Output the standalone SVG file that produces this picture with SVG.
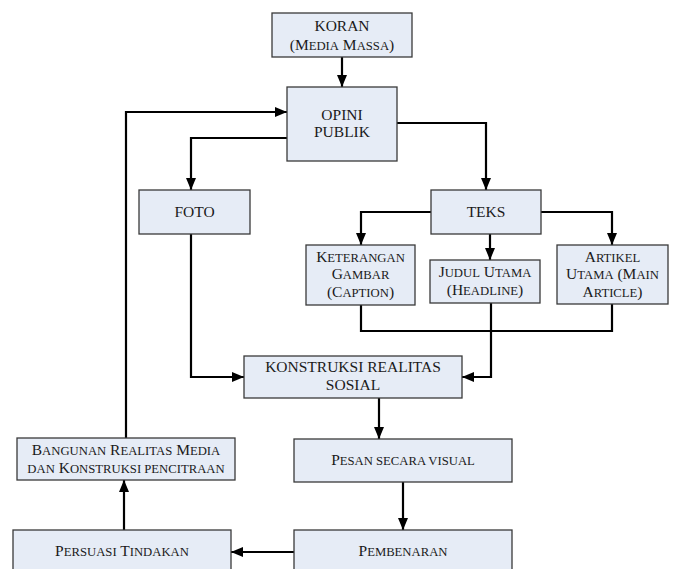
<svg xmlns="http://www.w3.org/2000/svg" width="673" height="569" viewBox="0 0 673 569">
<defs>
<marker id="ah" markerWidth="12" markerHeight="10" refX="12" refY="5" orient="auto" markerUnits="userSpaceOnUse">
<path d="M0,0 L12,5 L0,10 Z" fill="#000"/>
</marker>
<style>
.box{fill:#E6ECF6;stroke:#3a3a3a;stroke-width:1.3}
.t{font-family:"Liberation Serif","Times New Roman",serif;font-size:15.5px;fill:#1a1a1a;text-anchor:middle}
.s{font-size:12.7px}
.c{fill:none;stroke:#000;stroke-width:2.2}
.a{marker-end:url(#ah)}
</style>
</defs>
<g id="connectors">
<path class="c a" d="M342,57 V87"/>
<path class="c a" d="M126,438 V112 H287"/>
<path class="c a" d="M287,138 H191 V190"/>
<path class="c a" d="M397,123 H486 V190"/>
<path class="c a" d="M431,212 H361 V245"/>
<path class="c a" d="M541,212 H612 V245"/>
<path class="c a" d="M490,234 V260"/>
<path class="c" d="M361,305 V331 H612 V304"/>
<path class="c a" d="M491,303 V377 H462"/>
<path class="c a" d="M191,234 V377 H244"/>
<path class="c a" d="M379,398 V439"/>
<path class="c a" d="M403,482 V530"/>
<path class="c a" d="M294,552 H231"/>
<path class="c a" d="M124,530 V480"/>
</g>
<g id="koran">
<rect class="box" x="272" y="13" width="140" height="44"/>
<text class="t" x="342" y="31">KORAN</text>
<text class="t" x="342" y="50">(M<tspan class="s">EDIA</tspan> M<tspan class="s">ASSA</tspan>)</text>
</g>
<g id="opini">
<rect class="box" x="287" y="87" width="110" height="74"/>
<text class="t" x="342" y="120">OPINI</text>
<text class="t" x="342" y="137">PUBLIK</text>
</g>
<g id="foto">
<rect class="box" x="139" y="190" width="111" height="44"/>
<text class="t" x="194.5" y="217">FOTO</text>
</g>
<g id="teks">
<rect class="box" x="431" y="190" width="110" height="44"/>
<text class="t" x="486" y="217">TEKS</text>
</g>
<g id="keterangan">
<rect class="box" x="306" y="245" width="109" height="60"/>
<text class="t" x="360.5" y="262">K<tspan class="s">ETERANGAN</tspan></text>
<text class="t" x="360.5" y="279">G<tspan class="s">AMBAR</tspan></text>
<text class="t" x="360.5" y="297">(C<tspan class="s">APTION</tspan>)</text>
</g>
<g id="judul">
<rect class="box" x="430" y="260" width="110" height="43"/>
<text class="t" x="485" y="277">J<tspan class="s">UDUL</tspan> U<tspan class="s">TAMA</tspan></text>
<text class="t" x="485" y="295">(H<tspan class="s">EADLINE</tspan>)</text>
</g>
<g id="artikel">
<rect class="box" x="557" y="245" width="111" height="59"/>
<text class="t" x="612.5" y="262">A<tspan class="s">RTIKEL</tspan></text>
<text class="t" x="612.5" y="279">U<tspan class="s">TAMA</tspan> (M<tspan class="s">AIN</tspan></text>
<text class="t" x="612.5" y="297">A<tspan class="s">RTICLE</tspan>)</text>
</g>
<g id="konstruksi">
<rect class="box" x="244" y="356" width="218" height="42"/>
<text class="t" x="353" y="372">KONSTRUKSI REALITAS</text>
<text class="t" x="353" y="390">SOSIAL</text>
</g>
<g id="pesan">
<rect class="box" x="294" y="439" width="218" height="43"/>
<text class="t" x="403" y="465">P<tspan class="s">ESAN SECARA VISUAL</tspan></text>
</g>
<g id="bangunan">
<rect class="box" x="17" y="438" width="218" height="42"/>
<text class="t" x="126" y="455">B<tspan class="s">ANGUNAN</tspan> R<tspan class="s">EALITAS</tspan> M<tspan class="s">EDIA</tspan></text>
<text class="t" x="126" y="473"><tspan class="s">DAN</tspan> K<tspan class="s">ONSTRUKSI PENCITRAAN</tspan></text>
</g>
<g id="persuasi">
<rect class="box" x="13" y="530" width="218" height="50"/>
<text class="t" x="122" y="556">P<tspan class="s">ERSUASI</tspan> T<tspan class="s">INDAKAN</tspan></text>
</g>
<g id="pembenaran">
<rect class="box" x="294" y="530" width="218" height="50"/>
<text class="t" x="403" y="556">P<tspan class="s">EMBENARAN</tspan></text>
</g>
</svg>
